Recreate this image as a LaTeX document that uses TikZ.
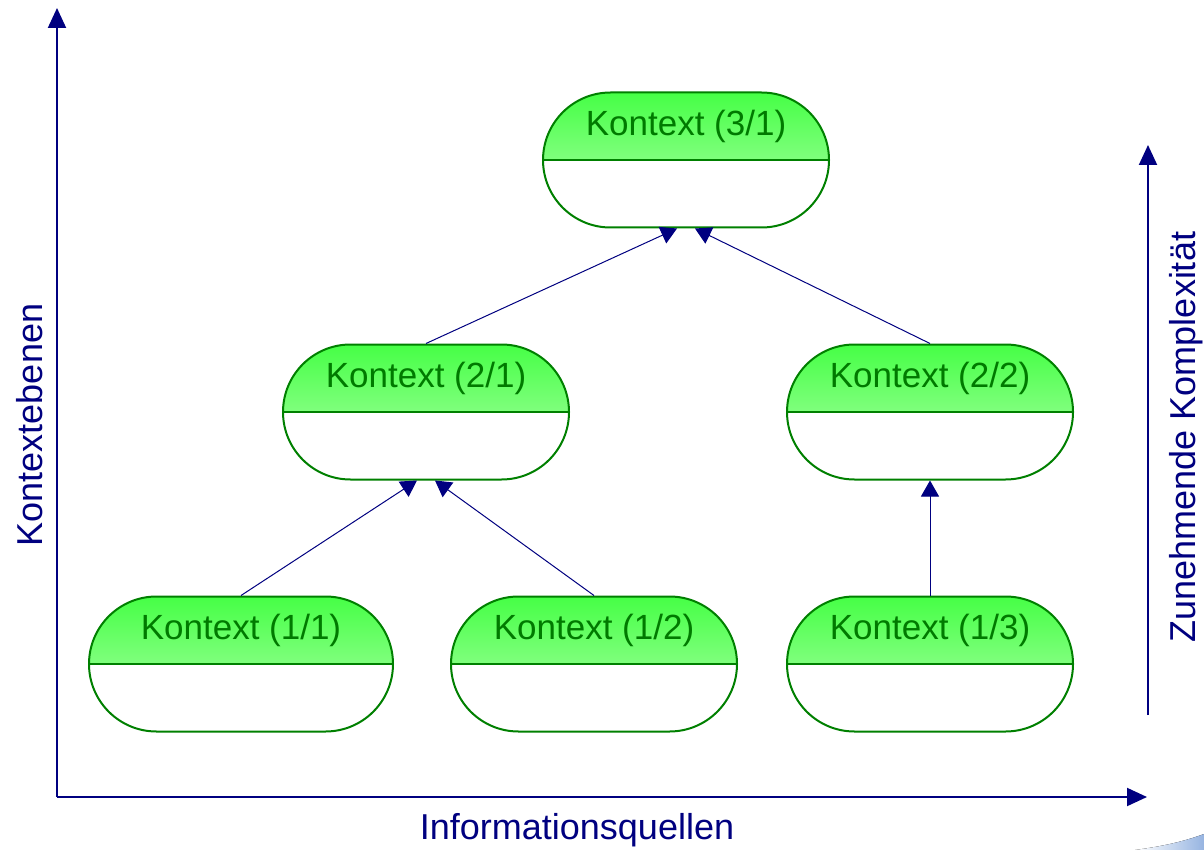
\documentclass[tikz,border=0pt]{standalone}
\usepackage{fontspec}
\setmainfont{Liberation Sans}
\usetikzlibrary{positioning,arrows.meta}
\definecolor{ctxline}{RGB}{0,128,0}
\definecolor{ctxtext}{RGB}{0,122,0}
\definecolor{ctxtop}{RGB}{70,255,70}
\definecolor{ctxbot}{RGB}{185,255,180}
\definecolor{axisblue}{RGB}{0,0,128}
\definecolor{swoosh}{RGB}{150,180,225}
\tikzset{
ctx/.style={rectangle, rounded corners=33.75pt, draw=ctxline, line width=1pt, fill=white, text=ctxtext,
	inner sep=0pt, minimum width=143pt, minimum height=67.5pt, text height=21.5pt, text depth=46pt,
	font=\fontsize{17.5}{20}\selectfont,
	path picture={\shade[sharp corners, top color=ctxtop, bottom color=ctxbot] (path picture bounding box.north west) rectangle (path picture bounding box.east);
		\draw[sharp corners, ctxline, line width=1pt] (path picture bounding box.west) -- (path picture bounding box.east);}},
hier/.style={-{Triangle[length=8pt,width=9pt]}, every edge/.style={draw=axisblue, line width=0.5pt}},
achse/.style={draw=axisblue, line width=1pt, -{Triangle[length=10pt,width=9pt]}},
achsetext/.style={text=axisblue, font=\fontsize{18}{21}\selectfont}
}

\begin{document}
\begin{tikzpicture}[x=0.5pt,y=-0.5pt,node distance=126pt,on grid]
\useasboundingbox[fill=white] (0,0) rectangle (1204,850);
\fill[left color=white, right color=swoosh] (1135,850) .. controls (1165,846) and (1185,841) .. (1204,834) -- (1204,850) -- cycle;

% Achsen
\coordinate (ursprung) at (57,797);
\coordinate (oben) at (57,8);
\coordinate (rechts) at (1147,797);
\coordinate (k_unten) at (1148,715);
\coordinate (k_oben) at (1148,145);
\draw[achse] (ursprung) -- (oben);
\draw[achse] (ursprung) -- (rechts);
\draw[achse] (k_unten) -- (k_oben);
\node[achsetext, rotate=90]		(ebenen)	at (30,425)		{Kontextebenen};
\node[achsetext]				(quellen)	at (577,830)	{Informationsquellen};
\node[achsetext, rotate=90]		(kompl)		at (1186,437)	{Zunehmende Komplexität};

% Kontexte
\node[ctx]								(k31)	at (686,160)				{Kontext (3/1)};
\node[ctx]								(k21)	[below left=126pt and 130pt of k31]	{Kontext (2/1)};
\node[ctx]								(k22)	[below right=126pt and 122pt of k31]	{Kontext (2/2)};
\node[ctx, minimum width=152pt]			(k11)	[below left=126pt and 92.5pt of k21]	{Kontext (1/1)};
\node[ctx]								(k12)	[right=176.5pt of k11]		{Kontext (1/2)};
\node[ctx]								(k13)	[below=of k22]				{Kontext (1/3)};

\path[hier]
(k11.north)	edge	([xshift=-4.5pt]k21.south)
(k12.north)	edge	([xshift=4.5pt]k21.south)
(k21.north)	edge	([xshift=-4.5pt]k31.south)
(k22.north)	edge	([xshift=4.5pt]k31.south)
(k13.north)	edge	(k22.south)
;
\end{tikzpicture}
\end{document}
